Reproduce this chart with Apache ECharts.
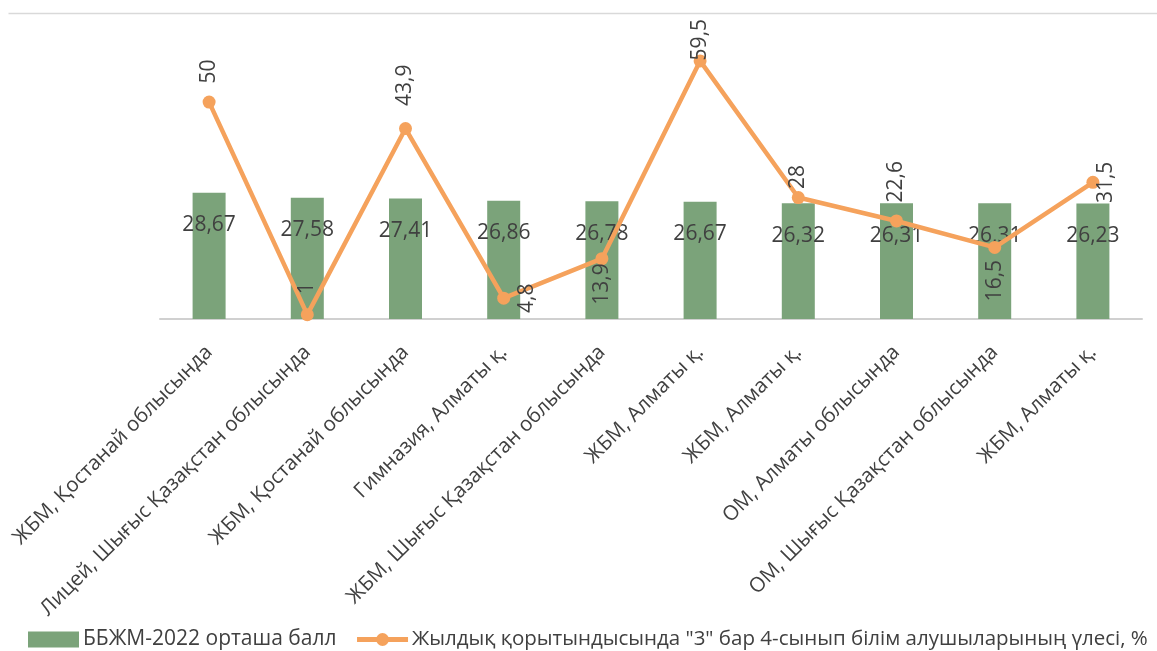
<!DOCTYPE html>
<html>
<head>
<meta charset="utf-8">
<script src="https://cdn.jsdelivr.net/npm/echarts@6/dist/echarts.min.js"></script>
<style>
html,body{margin:0;padding:0;background:#fff;}
#c{width:1157px;height:651px;}
</style>
</head>
<body>
<div id="c"></div>
<script>
const categories = [
  'ЖБМ, Қостанай облысында',
  'Лицей, Шығыс Қазақстан облысында',
  'ЖБМ, Қостанай облысында',
  'Гимназия, Алматы қ.',
  'ЖБМ, Шығыс Қазақстан облысында',
  'ЖБМ, Алматы қ.',
  'ЖБМ, Алматы қ.',
  'ОМ, Алматы облысында',
  'ОМ, Шығыс Қазақстан облысында',
  'ЖБМ, Алматы қ.'
];
const barName = 'ББЖМ-2022 орташа балл';
const lineName = 'Жылдық қорытындысында "3" бар 4-сынып білім алушыларының үлесі, %';
const barValues = [28.67, 27.58, 27.41, 26.86, 26.78, 26.67, 26.32, 26.31, 26.31, 26.23];
const lineValues = [50, 1, 43.9, 4.8, 13.9, 59.5, 28, 22.6, 16.5, 31.5];
const lineLabelPos = ['top', 'top', 'top', 'right', 'bottom', 'top', 'top', 'top', 'bottom', 'right'];
const lineLabelDist = [12, 14, 16, 10, -2, -6, 2, 12, 6, 0];

const FONT = '"Open Sans", sans-serif';
const TXT = '#404040';
const FS = 21;
const fmt = v => String(v).replace('.', ',');

function lineLabel(pos, d) {
  const base = { show: true, rotate: 90, position: pos, distance: d, fontSize: FS, fontFamily: FONT, color: TXT };
  if (pos === 'top') return Object.assign(base, { align: 'left', verticalAlign: 'middle' });
  if (pos === 'bottom') return Object.assign(base, { align: 'right', verticalAlign: 'middle' });
  return Object.assign(base, { align: 'center', verticalAlign: 'top', offset: [0, -4] });
}

const chart = echarts.init(document.getElementById('c'));
chart.setOption({
  animation: false,
  backgroundColor: '#fff',
  textStyle: { fontFamily: FONT },
  graphic: [{
    type: 'line', left: 6, top: 11,
    shape: { x1: 0, y1: 0, x2: 1151, y2: 0 },
    style: { stroke: '#d9d9d9', lineWidth: 1.5 }
  }],
  grid: { left: 160, right: 15, top: 11, bottom: 332, containLabel: false },
  legend: {
    top: 629, left: 28, padding: 0, itemGap: 18,
    itemWidth: 51, itemHeight: 16,
    textStyle: { fontSize: 21, color: TXT, fontFamily: FONT, padding: [0, 0, 0, -1] },
    data: [
      { name: barName, icon: 'rect' },
      { name: lineName, lineStyle: { width: 5 }, textStyle: { fontSize: 20.5, color: TXT, fontFamily: FONT, padding: [0, 0, 0, -1] } }
    ]
  },
  xAxis: {
    type: 'category', data: categories,
    axisLine: { show: true, lineStyle: { color: '#d0d0d0', width: 2 } },
    axisTick: { show: false },
    axisLabel: { rotate: 45, interval: 0, fontSize: 20.5, color: TXT, fontFamily: FONT, margin: 30 }
  },
  yAxis: [
    { type: 'value', min: 0, max: 70, show: false, splitLine: { show: false } },
    { type: 'value', min: 0, max: 71, show: false, splitLine: { show: false } }
  ],
  series: [
    {
      name: barName, type: 'bar', yAxisIndex: 0, barWidth: 33,
      itemStyle: { color: '#7ba37a' },
      data: barValues,
      label: {
        show: true, position: 'insideTop', distance: 22,
        fontSize: FS, color: TXT, fontFamily: FONT,
        formatter: p => fmt(p.value)
      },
      z: 2
    },
    {
      name: lineName, type: 'line', yAxisIndex: 1,
      symbol: 'circle', symbolSize: 13,
      lineStyle: { color: '#f5a25c', width: 4.5 },
      itemStyle: { color: '#f5a25c' },
      data: lineValues.map((v, i) => ({ value: v, label: lineLabel(lineLabelPos[i], lineLabelDist[i]) })),
      label: { show: true, formatter: p => fmt(p.value) },
      z: 3
    }
  ]
});
</script>
</body>
</html>
